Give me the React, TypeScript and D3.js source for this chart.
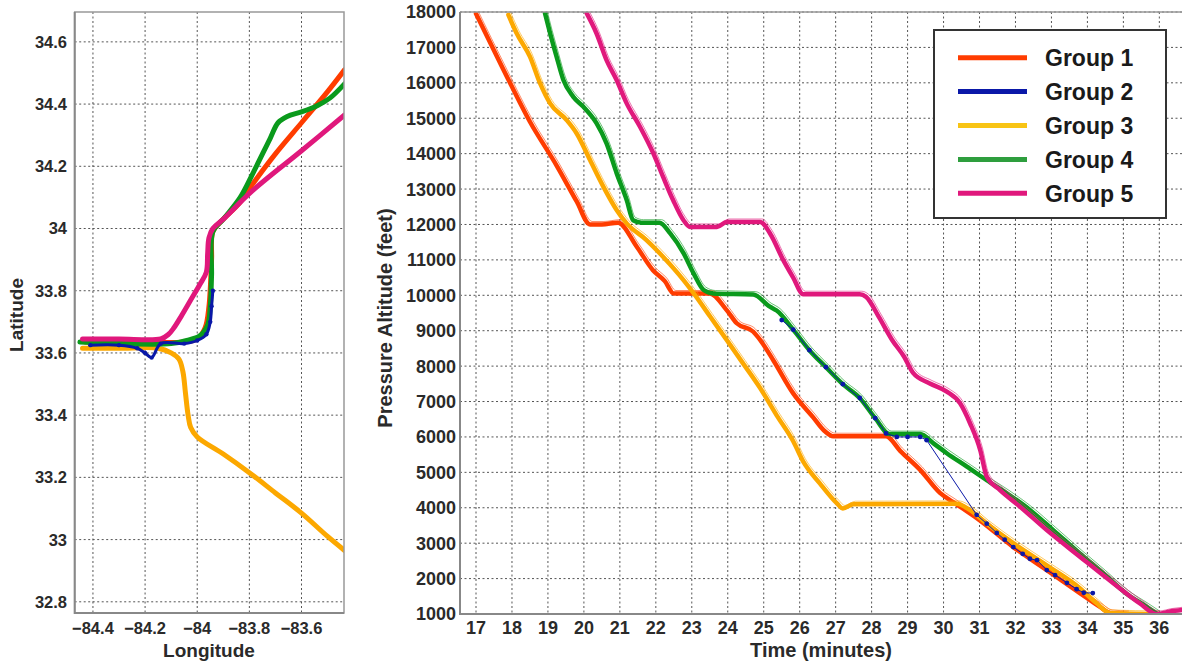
import React from 'react';
import * as d3 from 'd3';

const groupNames = ['Group 1', 'Group 2', 'Group 3', 'Group 4', 'Group 5'];
const groupColors = ['#ff3c00', '#0a18a8', '#fca800', '#0a9a1c', '#e0187c'];
const legendColors = ['#ff3c00', '#0a18a8', '#f8c414', '#2e9e3e', '#e0187c'];

// ground tracks, [longitude, latitude]
const track1 = [[-84.43, 33.635], [-84.2, 33.635], [-84.05, 33.635], [-84.0, 33.645], [-83.97, 33.68], [-83.955, 33.75], [-83.945, 33.9], [-83.94, 33.99], [-83.9, 34.03], [-83.84, 34.08], [-83.79, 34.14], [-83.7, 34.24], [-83.6, 34.34], [-83.5, 34.44], [-83.435, 34.51]];
const track2 = [[-84.41, 33.625], [-84.3, 33.625], [-84.23, 33.615], [-84.2, 33.6], [-84.175, 33.585], [-84.14, 33.63], [-84.05, 33.63], [-84.0, 33.64], [-83.965, 33.66], [-83.95, 33.7], [-83.945, 33.75], [-83.94, 33.8]];
const track3 = [[-84.44, 33.615], [-84.3, 33.615], [-84.15, 33.615], [-84.1, 33.6], [-84.07, 33.58], [-84.055, 33.54], [-84.045, 33.47], [-84.035, 33.4], [-84.025, 33.36], [-84.0, 33.33], [-83.9, 33.275], [-83.8, 33.215], [-83.7, 33.15], [-83.6, 33.085], [-83.5, 33.01], [-83.435, 32.965]];
const track4 = [[-84.45, 33.635], [-84.3, 33.63], [-84.1, 33.63], [-84.04, 33.64], [-83.99, 33.655], [-83.96, 33.69], [-83.95, 33.75], [-83.945, 33.85], [-83.94, 33.99], [-83.9, 34.03], [-83.835, 34.1], [-83.785, 34.18], [-83.72, 34.29], [-83.69, 34.34], [-83.655, 34.36], [-83.6, 34.375], [-83.54, 34.395], [-83.49, 34.42], [-83.435, 34.465]];
const track5 = [[-84.44, 33.645], [-84.3, 33.645], [-84.14, 33.645], [-84.11, 33.66], [-84.09, 33.68], [-84.06, 33.72], [-84.025, 33.77], [-83.99, 33.82], [-83.965, 33.86], [-83.96, 33.92], [-83.955, 33.97], [-83.94, 34.0], [-83.9, 34.03], [-83.79, 34.12], [-83.6, 34.25], [-83.435, 34.365]];

// altitude profiles, [minutes, feet]
const alt1 = [[17.0, 17950], [17.75, 16400], [18.5, 14900], [19.25, 13650], [19.8, 12650], [20.17, 12000], [20.5, 12000], [20.95, 12050], [21.47, 11370], [21.92, 10710], [22.25, 10400], [22.5, 10050], [23.5, 10050], [23.97, 9580], [24.25, 9210], [24.71, 8970], [24.9, 8740], [25.27, 8160], [25.82, 7230], [26.37, 6560], [26.7, 6160], [26.93, 6020], [28.4, 6020], [28.8, 5600], [29.35, 5070], [29.9, 4420], [30.27, 4160], [30.5, 4000], [31.0, 3650], [31.94, 2890], [32.87, 2240], [33.79, 1590], [34.35, 1200], [34.63, 1030], [35.1, 1000]];
const alt2 = [[25.5, 9300], [25.82, 9030], [26.27, 8450], [26.73, 7970], [27.2, 7490], [27.67, 7100], [28.1, 6530], [28.4, 6100], [28.7, 6000], [29.0, 6000], [29.35, 6000], [29.53, 5910], [30.92, 3800], [31.2, 3550], [31.48, 3290], [31.7, 3100], [31.94, 2890], [32.2, 2700], [32.4, 2560], [32.6, 2520], [32.87, 2240], [33.1, 2100], [33.43, 1880], [33.7, 1700], [33.9, 1600], [34.15, 1590]];
const alt3 = [[17.9, 17920], [18.13, 17400], [18.5, 16740], [18.78, 15990], [19.06, 15420], [19.52, 14950], [19.8, 14570], [20.17, 13820], [20.54, 13070], [20.91, 12410], [21.19, 12030], [21.74, 11560], [22.2, 11090], [22.77, 10430], [23.05, 10060], [23.51, 9400], [23.97, 8740], [24.43, 8070], [24.9, 7380], [25.36, 6610], [25.82, 5880], [26.1, 5300], [26.56, 4690], [27.03, 4130], [27.2, 3980], [27.49, 4100], [30.36, 4110], [30.73, 3940], [31.19, 3560], [31.94, 3000], [32.86, 2380], [33.79, 1730], [34.25, 1310], [34.63, 1030], [35.95, 1000]];
const alt4 = [[18.92, 17960], [19.06, 17400], [19.24, 16740], [19.43, 16080], [19.7, 15610], [19.98, 15330], [20.35, 14860], [20.63, 14290], [20.91, 13450], [21.19, 12690], [21.37, 12120], [21.6, 12050], [22.1, 12050], [22.4, 11750], [22.77, 11190], [23.05, 10620], [23.33, 10150], [23.6, 10050], [24.71, 10020], [25.17, 9680], [25.36, 9570], [25.82, 9030], [26.27, 8450], [26.73, 7970], [27.2, 7490], [27.67, 7100], [28.1, 6530], [28.5, 6080], [29.35, 6080], [29.72, 5820], [30.09, 5540], [30.65, 5160], [31.2, 4780], [31.76, 4410], [32.4, 3940], [33.05, 3370], [33.79, 2710], [34.44, 2150], [35.08, 1580], [35.64, 1210], [35.95, 1000]];
const alt5 = [[20.08, 17960], [20.35, 17400], [20.63, 16640], [20.91, 16080], [21.19, 15420], [21.56, 14760], [21.93, 14010], [22.2, 13350], [22.48, 12690], [22.77, 12120], [22.95, 11930], [23.7, 11930], [23.97, 12070], [24.9, 12070], [25.18, 11740], [25.54, 11000], [25.82, 10500], [26.1, 10030], [27.67, 10030], [27.85, 9950], [28.2, 9390], [28.57, 8740], [28.9, 8270], [29.16, 7800], [29.62, 7510], [30.09, 7280], [30.46, 6950], [30.74, 6380], [31.02, 5630], [31.2, 4880], [31.57, 4500], [32.13, 4030], [32.87, 3370], [33.79, 2620], [34.72, 1870], [35.46, 1300], [35.93, 1000], [36.3, 1070], [36.63, 1110]];

const tracks = [track1, track2, track3, track4, track5];
const alts = [alt1, alt2, alt3, alt4, alt5];

const lonTicks = [-84.4, -84.2, -84, -83.8, -83.6];
const latTicks = [32.8, 33, 33.2, 33.4, 33.6, 33.8, 34, 34.2, 34.4, 34.6];
const timeTicks = [17, 18, 19, 20, 21, 22, 23, 24, 25, 26, 27, 28, 29, 30, 31, 32, 33, 34, 35, 36];
const altTicks = [1000, 2000, 3000, 4000, 5000, 6000, 7000, 8000, 9000, 10000, 11000, 12000, 13000, 14000, 15000, 16000, 17000, 18000];

const FONT = "'Liberation Sans', Arial, Helvetica, sans-serif";

export default function App() {
  // left panel: ground track
  const xL = d3.scaleLinear().domain([-84.47, -83.437]).range([74.7, 344]);
  const yL = d3.scaleLinear().domain([32.764, 34.696]).range([613, 12]);
  // right panel: altitude vs time
  const xR = d3.scaleLinear().domain([16.555, 36.63]).range([460, 1182]);
  const yR = d3.scaleLinear().domain([1000, 18000]).range([614, 12]);

  const trackLine = d3.line<number[]>()
    .x(d => xL(d[0]))
    .y(d => yL(d[1]))
    .curve(d3.curveCatmullRom.alpha(0.5));
  const altLine = d3.line<number[]>()
    .x(d => xR(d[0]))
    .y(d => yR(d[1]))
    .curve(d3.curveMonotoneX);

  const grid = { stroke: '#555', strokeWidth: 1, strokeDasharray: '2,2.5' };
  const tickText = { fontFamily: FONT, fontWeight: 700, fill: '#2a2a2a' };
  const drawOrderL = [0, 2, 3, 1, 4];
  const drawOrderR = [0, 2, 3, 4];

  return (
    <svg width={1182} height={661} style={{ position: 'absolute', left: 0, top: 0, background: '#fff' }}>
      <defs>
        <clipPath id="clipL"><rect x={74.7} y={12} width={269.3} height={601} /></clipPath>
        <clipPath id="clipR"><rect x={460} y={12} width={722} height={602} /></clipPath>
      </defs>

      {/* left panel grid */}
      {lonTicks.map(t => (
        <line key={'gx' + t} x1={xL(t)} x2={xL(t)} y1={12} y2={613} {...grid} />
      ))}
      {latTicks.map(t => (
        <line key={'gy' + t} x1={74.7} x2={344} y1={yL(t)} y2={yL(t)} {...grid} />
      ))}

      <g clipPath="url(#clipL)">
        {drawOrderL.map(i => (
          <path key={'trk' + i} d={trackLine(tracks[i]) || ''} fill="none" stroke={groupColors[i]}
            strokeWidth={i === 1 ? 3 : 5} strokeLinejoin="round" strokeLinecap="round" />
        ))}
        {track2.map((d, j) => (
          <circle key={'td' + j} cx={xL(d[0])} cy={yL(d[1])} r={2.2} fill={groupColors[1]} />
        ))}
      </g>

      <rect x={74.7} y={12} width={269.3} height={601} fill="none" stroke="#999" strokeWidth={1.5} />
      <line x1={74.7} x2={74.7} y1={12} y2={614} stroke="#888" strokeWidth={2} />
      <line x1={74} x2={344} y1={613} y2={613} stroke="#888" strokeWidth={2} />

      {latTicks.map(t => (
        <text key={'ly' + t} x={67} y={yL(t)} dy="0.36em" textAnchor="end" fontSize={16.5} {...tickText}>
          {d3.format('')(t)}
        </text>
      ))}
      {lonTicks.map(t => (
        <text key={'lx' + t} x={xL(t)} y={634} textAnchor="middle" fontSize={16.5} {...tickText}>
          {d3.format('')(t)}
        </text>
      ))}
      <text x={209} y={657} textAnchor="middle" fontSize={19} {...tickText}>Longitude</text>
      <text transform="translate(23,315) rotate(-90)" textAnchor="middle" fontSize={19} {...tickText}>Latitude</text>

      {/* right panel grid */}
      {timeTicks.map(t => (
        <line key={'rgx' + t} x1={xR(t)} x2={xR(t)} y1={12} y2={614} {...grid} />
      ))}
      {altTicks.map(t => (
        <line key={'rgy' + t} x1={460} x2={1182} y1={yR(t)} y2={yR(t)} {...grid} />
      ))}

      <g clipPath="url(#clipR)">
        {drawOrderR.map(i => (
          <g key={'alt' + i}>
            <path d={altLine(alts[i]) || ''} fill="none" stroke={groupColors[i]} strokeWidth={1}
              transform="translate(2,-3)" opacity={0.6} />
            <path d={altLine(alts[i]) || ''} fill="none" stroke={groupColors[i]} strokeWidth={4.5}
              strokeLinejoin="round" strokeLinecap="round" />
          </g>
        ))}
        <path d={d3.line<number[]>().x(d => xR(d[0])).y(d => yR(d[1]))(alt2) || ''} fill="none"
          stroke={groupColors[1]} strokeWidth={1} />
        {alt2.map((d, j) => (
          <circle key={'ad' + j} cx={xR(d[0])} cy={yR(d[1])} r={2.4} fill={groupColors[1]} />
        ))}
      </g>

      <line x1={460} x2={1182} y1={12} y2={12} stroke="#999" strokeWidth={1.5} />
      <line x1={460} x2={460} y1={12} y2={615} stroke="#888" strokeWidth={2} />
      <line x1={459} x2={1182} y1={614} y2={614} stroke="#888" strokeWidth={2} />

      {altTicks.map(t => (
        <text key={'ry' + t} x={456} y={yR(t)} dy="0.36em" textAnchor="end" fontSize={18} {...tickText}>
          {t}
        </text>
      ))}
      {timeTicks.map(t => (
        <text key={'rx' + t} x={xR(t)} y={634} textAnchor="middle" fontSize={18} {...tickText}>
          {t}
        </text>
      ))}
      <text x={821} y={657} textAnchor="middle" fontSize={20} {...tickText}>Time (minutes)</text>
      <text transform="translate(392,318) rotate(-90)" textAnchor="middle" fontSize={20} {...tickText}>
        Pressure Altitude (feet)
      </text>

      {/* legend */}
      <rect x={934} y={30} width={232} height={188} fill="#fff" stroke="#333" strokeWidth={2} />
      {groupNames.map((name, i) => (
        <g key={name} transform={`translate(0,${57.7 + i * 33.9})`}>
          <line x1={958} x2={1027} y1={0} y2={0} stroke={legendColors[i]} strokeWidth={5} />
          <text x={1045} y={0} dy="0.36em" fontSize={23} {...tickText} fill="#1a1a1a">{name}</text>
        </g>
      ))}
    </svg>
  );
}
